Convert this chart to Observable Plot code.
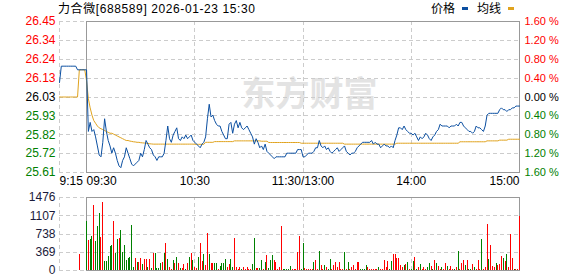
<!DOCTYPE html>
<html><head><meta charset="utf-8">
<script src="https://cdn.jsdelivr.net/npm/d3@7"></script>
<script src="https://cdn.jsdelivr.net/npm/@observablehq/plot@0.6"></script>
<style>
html,body{margin:0;padding:0;background:#fff;overflow:hidden;}
#wrap{position:relative;width:578px;height:276px;font-family:"Liberation Sans","Noto Sans CJK SC",Arial,sans-serif;}
#wrap svg{position:absolute;left:0;}
.lbl{position:absolute;font-size:12px;line-height:12px;color:#000;white-space:nowrap;}
.sw{position:absolute;width:6px;height:3px;}
</style></head><body><div id="wrap"></div>
<script>
// ---------- data ----------
const stockName = "力合微";
const stockCode = "688589";
const stamp = "2026-01-23 15:30";
const legendNames = ["价格", "均线"];
const prevClose = 26.03;
const pctTicks = [1.6, 1.2, 0.8, 0.4, 0, -0.4, -0.8, -1.2, -1.6];
const priceLabels = ["26.45", "26.34", "26.24", "26.13", "26.03", "25.93", "25.82", "25.72", "25.61"];
const volTicks = [0, 369, 738, 1107, 1476];
const timeTicks = [-15, 0, 60, 120, 180, 240];
const timeLabels = ["9:15", "09:30", "10:30", "11:30/13:00", "14:00", "15:00"];
const timeAnchor = ["start", "start", "middle", "middle", "middle", "end"];
const gridMinutes = [-15, 60, 120, 180];

// call auction 9:15 - 9:29 (minute index relative to 9:30)
const auctionMinute = [-15, -14, -13, -12, -11, -10, -9, -8, -7, -6, -5, -4, -3, -2, -1];
const auctionPrice = [26.11, 26.20, 26.20, 26.20, 26.20, 26.20, 26.20, 26.20, 26.20, 26.20, 26.18, 26.18, 26.18, 26.18, 26.18];
const auctionAvg = [26.03, 26.03, 26.03, 26.03, 26.03, 26.03, 26.03, 26.03, 26.03, 26.03, 26.03, 26.18, 26.18, 26.18, 26.18];
const auctionVolMinute = [-4];
const auctionVol = [323];
const auctionVolDir = ["r"];

// continuous session, one value per minute (0 = 9:30 ... 240 = 15:00)
const price = [
26.18,25.84,25.89,25.84,25.85,25.81,25.76,25.71,25.70,25.78,
25.91,25.84,25.79,25.76,25.72,25.75,25.72,25.68,25.65,25.64,
25.68,25.70,25.75,25.72,25.69,25.66,25.65,25.66,25.67,25.68,
25.72,25.70,25.74,25.79,25.77,25.75,25.74,25.71,25.70,25.68,
25.70,25.70,25.70,25.72,25.79,25.87,25.80,25.78,25.82,25.84,
25.86,25.80,25.79,25.81,25.80,25.82,25.80,25.81,25.82,25.79,
25.78,25.77,25.76,25.75,25.77,25.78,25.81,25.91,25.99,25.92,
25.93,25.90,25.88,25.87,25.87,25.84,25.82,25.80,25.80,25.88,
25.89,25.83,25.88,25.90,25.86,25.89,25.86,25.85,25.86,25.87,
25.85,25.83,25.81,25.77,25.80,25.78,25.75,25.76,25.74,25.77,
25.73,25.72,25.71,25.70,25.69,25.70,25.70,25.70,25.70,25.70,
25.70,25.72,25.72,25.72,25.72,25.72,25.72,25.74,25.74,25.74,
25.70,25.70,25.71,25.72,25.72,25.72,25.73,25.75,25.75,25.79,
25.76,25.75,25.76,25.74,25.75,25.73,25.72,25.73,25.74,25.75,
25.73,25.74,25.75,25.76,25.73,25.72,25.71,25.72,25.72,25.73,
25.75,25.76,25.77,25.78,25.78,25.78,25.78,25.78,25.79,25.77,
25.78,25.77,25.77,25.75,25.76,25.77,25.76,25.76,25.75,25.76,
25.75,25.79,25.82,25.86,25.86,25.85,25.87,25.85,25.84,25.83,
25.83,25.82,25.83,25.81,25.79,25.81,25.80,25.81,25.83,25.82,
25.80,25.79,25.81,25.82,25.84,25.85,25.88,25.87,25.87,25.87,
25.87,25.86,25.87,25.87,25.87,25.88,25.87,25.89,25.89,25.87,
25.86,25.85,25.84,25.84,25.83,25.84,25.87,25.86,25.86,25.85,
25.84,25.87,25.93,25.94,25.94,25.94,25.94,25.94,25.94,25.96,
25.97,25.96,25.96,25.95,25.96,25.96,25.97,25.97,25.98,25.98,
25.98];

const avgPrice = [
26.12,26.02,25.97,25.93,25.90,25.885,25.87,25.86,25.855,25.85,
25.845,25.84,25.835,25.83,25.83,25.825,25.82,25.815,25.81,25.805,
25.80,25.795,25.79,25.79,25.787,25.785,25.783,25.782,25.78,25.78,
25.778,25.777,25.776,25.775,25.774,25.772,25.771,25.77,25.77,25.77,
25.77,25.77,25.77,25.77,25.77,25.77,25.77,25.77,25.77,25.77,
25.77,25.77,25.77,25.77,25.77,25.77,25.77,25.77,25.77,25.77,
25.769,25.769,25.769,25.769,25.769,25.769,25.78,25.78,25.78,25.78,
25.78,25.784,25.784,25.784,25.784,25.784,25.784,25.784,25.784,25.784,
25.784,25.784,25.788,25.788,25.788,25.788,25.788,25.788,25.788,25.788,
25.788,25.788,25.788,25.788,25.788,25.788,25.788,25.786,25.786,25.786,
25.786,25.779,25.779,25.779,25.779,25.779,25.779,25.779,25.779,25.779,
25.779,25.779,25.779,25.779,25.779,25.779,25.779,25.779,25.779,25.775,
25.775,25.775,25.775,25.775,25.775,25.775,25.775,25.775,25.775,25.775,
25.775,25.775,25.775,25.775,25.775,25.775,25.775,25.775,25.775,25.775,
25.775,25.775,25.775,25.77,25.77,25.77,25.77,25.77,25.77,25.77,
25.77,25.77,25.77,25.77,25.77,25.77,25.77,25.77,25.77,25.77,
25.77,25.77,25.77,25.77,25.77,25.77,25.77,25.77,25.77,25.77,
25.77,25.77,25.775,25.775,25.775,25.775,25.775,25.775,25.775,25.775,
25.775,25.775,25.775,25.775,25.775,25.775,25.775,25.775,25.775,25.775,
25.775,25.775,25.775,25.775,25.775,25.775,25.775,25.775,25.775,25.775,
25.775,25.775,25.775,25.775,25.775,25.775,25.775,25.783,25.783,25.783,
25.783,25.783,25.783,25.783,25.783,25.783,25.783,25.783,25.783,25.783,
25.783,25.783,25.788,25.788,25.788,25.788,25.788,25.788,25.788,25.792,
25.792,25.792,25.792,25.792,25.797,25.797,25.797,25.797,25.797,25.797,
25.797];

const volume = [
990,606,620,687,1313,586,889,1151,660,1374,
182,182,283,485,505,990,350,626,640,808,
370,505,202,236,269,909,67,236,168,168,
236,114,215,215,54,215,34,350,337,34,
34,148,168,350,552,229,67,20,202,135,
269,135,34,34,114,20,148,269,337,202,
67,40,269,552,188,323,100,754,323,150,
150,140,140,30,80,140,140,215,60,120,
215,60,646,60,30,60,30,54,30,54,
20,30,120,646,34,34,40,202,13,168,
303,40,202,303,202,168,13,67,889,13,
13,13,13,81,13,13,13,370,687,13,
552,40,30,30,20,20,168,202,13,390,
100,30,100,67,13,215,13,100,168,67,
168,30,13,370,13,168,30,67,100,30,
168,168,13,13,13,100,54,13,13,13,
13,13,54,13,13,202,54,182,13,182,
323,323,249,236,100,54,100,120,168,13,
13,182,269,30,54,120,13,67,13,67,
148,80,13,202,135,80,13,67,13,148,
80,13,80,13,13,54,390,13,148,202,
100,202,13,13,120,67,13,202,13,633,
30,60,922,215,505,80,60,135,100,120,
283,249,182,323,60,720,249,30,13,13,
1097];

const volumeDir = [
"g","r","g","g","r","g","g","g","r","r",
"g","g","g","g","g","r","g","g","r","g",
"g","g","g","g","g","g","g","r","g","r",
"r","g","r","r","g","r","g","r","g","g",
"g","g","r","g","r","g","r","r","g","r",
"g","r","g","r","r","g","r","g","r","g",
"r","r","g","r","r","g","r","r","g","r",
"r","g","g","r","g","g","g","g","r","r",
"g","g","r","r","r","r","g","r","r","r",
"r","r","g","g","r","r","g","g","r","g",
"r","g","g","g","r","r","r","r","r","g",
"g","g","g","g","r","r","r","r","r","g",
"g","r","r","r","r","r","g","r","r","g",
"r","r","g","r","g","g","r","r","r","r",
"r","r","r","g","r","g","r","r","r","r",
"r","r","g","g","g","g","r","r","r","r",
"r","r","g","r","r","r","r","r","g","g",
"r","r","r","r","r","r","g","r","g","r",
"g","g","r","g","r","g","r","r","r","g",
"g","r","g","r","g","r","r","g","r","r",
"g","r","r","r","g","r","g","r","r","r",
"g","r","g","g","r","g","r","r","r","g",
"r","r","r","g","r","r","r","g","r","r",
"r","g","r","g","r","r","r","g","r","r",
"r"];

// ---------- build ----------
const UP = "#ff0000", DOWN = "#008000", FLAT = "#000000";
const BLUE = "#0b4fa1", ORANGE = "#e0a31e";
const GRID = "#cccccc", BORDER = "#999999";
const font = "'Liberation Sans', Arial, sans-serif";

const series = auctionMinute.map((m, i) => ({m, p: auctionPrice[i], a: auctionAvg[i]}))
  .concat(price.map((p, i) => ({m: i, p, a: avgPrice[i]})));
const bars = auctionVolMinute.map((m, i) => ({m, v: auctionVol[i], d: auctionVolDir[i]}))
  .concat(volume.map((v, i) => ({m: i, v, d: volumeDir[i]})));
const ticks = pctTicks.map((pc, i) => ({pc, y: prevClose * (1 + pc / 100), label: priceLabels[i]}));
const tcol = d => d.pc > 0 ? UP : d.pc < 0 ? DOWN : FLAT;
const times = timeTicks.map((m, i) => ({m, label: timeLabels[i], anchor: timeAnchor[i]}));
const yDom = [prevClose * (1 - 0.016), prevClose * (1 + 0.016)];
const xDom = [-15, 240];

const pricePlot = Plot.plot({
  width: 578, height: 186,
  marginLeft: 59, marginRight: 59, marginTop: 21, marginBottom: 14,
  x: {domain: xDom, axis: null},
  y: {domain: yDom, axis: null},
  color: {type: "identity"},
  style: {fontFamily: font, fontSize: "12px", background: "transparent", overflow: "visible"},
  marks: [
    Plot.text(["东方财富"], {frameAnchor: "middle", dx: 20, dy: -2, fontSize: 34, fontWeight: "bold",
      fontFamily: "'Noto Sans CJK SC', sans-serif", fill: "#e3e3e3"}),
    Plot.ruleY(ticks, {y: "y", x1: xDom[0], x2: xDom[1], stroke: GRID, strokeDasharray: "4,3", shapeRendering: "crispEdges"}),
    Plot.ruleX(gridMinutes, {x: d => d, y1: yDom[0], y2: yDom[1], stroke: GRID, strokeDasharray: "4,3", shapeRendering: "crispEdges"}),
    Plot.rect([0], {x1: 0, x2: xDom[1], y1: yDom[0], y2: yDom[1], fill: "none", stroke: BORDER, shapeRendering: "crispEdges"}),
    Plot.line(series, {x: "m", y: "a", stroke: ORANGE, strokeWidth: 1}),
    Plot.line(series, {x: "m", y: "p", stroke: BLUE, strokeWidth: 1}),
    Plot.text(ticks, {x: xDom[0], y: "y", text: "label", textAnchor: "end", dx: -4, fill: tcol}),
    Plot.text(ticks, {x: xDom[1], y: "y", text: d => Math.abs(d.pc).toFixed(2) + " %", textAnchor: "start", dx: 5, fontSize: 11, fill: tcol}),
    ...["start", "middle", "end"].map(a => Plot.text(times.filter(t => t.anchor === a),
      {x: "m", text: "label", frameAnchor: "bottom", dy: 9, lineAnchor: "middle", textAnchor: a, fill: "#000"}))
  ]
});

const volPlot = Plot.plot({
  width: 578, height: 90,
  marginLeft: 59, marginRight: 59, marginTop: 11, marginBottom: 6,
  x: {domain: xDom, axis: null},
  y: {domain: [0, 1476], axis: null},
  color: {type: "identity"},
  style: {fontFamily: font, fontSize: "12px", background: "transparent", overflow: "visible"},
  marks: [
    Plot.ruleY(volTicks, {y: d => d, x1: xDom[0], x2: xDom[1], stroke: GRID, strokeDasharray: "4,3", shapeRendering: "crispEdges"}),
    Plot.ruleX(gridMinutes, {x: d => d, y1: 0, y2: 1476, stroke: GRID, strokeDasharray: "4,3", shapeRendering: "crispEdges"}),
    Plot.rect([0], {x1: 0, x2: xDom[1], y1: 0, y2: 1476, fill: "none", stroke: BORDER, shapeRendering: "crispEdges"}),
    Plot.ruleX(bars, {x: "m", y1: 0, y2: "v", stroke: d => d.d === "r" ? UP : DOWN, strokeWidth: 1, shapeRendering: "crispEdges"}),
    Plot.text(volTicks, {x: xDom[0], y: d => d, text: d => String(d), textAnchor: "end", dx: -4, fill: "#1a1a3a"})
  ]
});

const wrap = document.getElementById("wrap");
pricePlot.style.top = "0px";
volPlot.style.top = "186px";
wrap.appendChild(pricePlot);
wrap.appendChild(volPlot);

function addLabel(text, left, top, extra) {
  const d = document.createElement("div");
  d.className = "lbl";
  d.textContent = text;
  d.style.left = left + "px";
  d.style.top = top + "px";
  if (extra) Object.assign(d.style, extra);
  wrap.appendChild(d);
  return d;
}
function addSwatch(color, left, top) {
  const s = document.createElement("div");
  s.className = "sw";
  s.style.background = color;
  s.style.left = left + "px";
  s.style.top = top + "px";
  wrap.appendChild(s);
}
addLabel(`${stockName}[${stockCode}] ${stamp}`, 58, 3, {letterSpacing: "0.6px"});
addLabel(legendNames[0], 431, 3);
addSwatch(BLUE, 462, 7);
addLabel(legendNames[1], 477, 3);
addSwatch(ORANGE, 508, 7);
</script></body></html>
